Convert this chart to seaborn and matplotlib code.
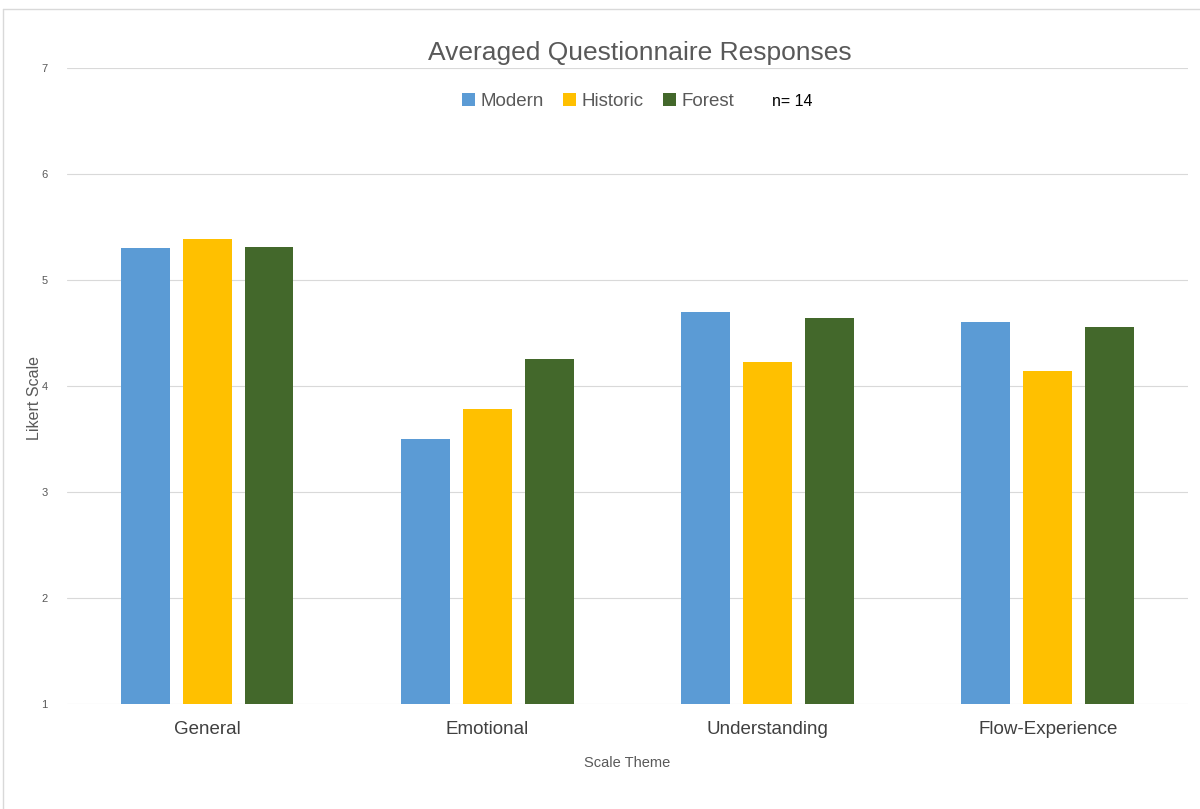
import matplotlib
matplotlib.use("Agg")
import matplotlib.pyplot as plt
import seaborn as sns
import pandas as pd
from matplotlib.patches import Patch
from matplotlib.lines import Line2D

categories = ["General", "Emotional", "Understanding", "Flow-Experience"]
series_names = ["Modern", "Historic", "Forest"]
modern = [5.30, 3.50, 4.70, 4.60]
historic = [5.39, 3.78, 4.23, 4.14]
forest = [5.31, 4.25, 4.64, 4.56]
y_ticks = [1, 2, 3, 4, 5, 6, 7]
colors = ["#5B9BD5", "#FFC000", "#43682B"]

rows = []
for name, vals in zip(series_names, [modern, historic, forest]):
    for c, v in zip(categories, vals):
        rows.append({"Scale Theme": c, "Series": name, "Value": v})
df = pd.DataFrame(rows)

sns.set_theme(style="white")
plt.rcParams["font.family"] = ["Liberation Sans", "DejaVu Sans"]

fig = plt.figure(figsize=(12, 8.09), dpi=100)
ax = fig.add_axes([0.0558, 0.1298, 0.9342, 0.7862])

sns.barplot(data=df, x="Scale Theme", y="Value", hue="Series",
            palette=colors, hue_order=series_names, order=categories,
            width=0.663, gap=0.21, ax=ax, legend=False, errorbar=None,
            saturation=1)

# bars start from baseline 1 (the axis minimum)
for p in ax.patches:
    h = p.get_height()
    p.set_y(1)
    p.set_height(h - 1)
    p.set_linewidth(0)

ax.set_ylim(1, 7)
ax.set_xlim(-0.5, 3.5)
ax.set_yticks(y_ticks)
ax.set_yticklabels([str(t) for t in y_ticks], fontsize=8, color="#595959")
ax.tick_params(axis="y", length=0, pad=14)
ax.tick_params(axis="x", length=0, labelsize=13.5, labelcolor="#404040", pad=12)
ax.yaxis.grid(True, color="#D9D9D9", linewidth=0.8)
ax.set_axisbelow(True)
for s in ax.spines.values():
    s.set_visible(False)

ax.set_ylabel("Likert Scale", fontsize=11.5, color="#595959")
ax.yaxis.set_label_coords(-0.022, 0.481)
ax.set_xlabel("Scale Theme", fontsize=10.5, color="#595959", labelpad=13)

fig.text(0.533, 0.935, "Averaged Questionnaire Responses", ha="center",
         va="center", fontsize=19, color="#595959")

handles = [Patch(facecolor=c, edgecolor="none") for c in colors]
handles.append(Line2D([], [], linestyle="none"))
labels = series_names + ["n= 14"]
leg = fig.legend(handles, labels, loc="center", bbox_to_anchor=(0.531, 0.875),
                 ncol=4, frameon=False, fontsize=13.5, handlelength=0.7,
                 handleheight=0.7, handletextpad=0.3, columnspacing=1.0)
for t in leg.get_texts():
    t.set_color("#595959")
leg.get_texts()[-1].set_color("black")
leg.get_texts()[-1].set_fontsize(11.5)

# light chart-area border
fig.add_artist(Line2D([3 / 1200, 1.0], [1 - 9 / 809, 1 - 9 / 809],
                      transform=fig.transFigure, color="#D9D9D9", linewidth=1))
fig.add_artist(Line2D([3 / 1200, 3 / 1200], [0, 1 - 9 / 809],
                      transform=fig.transFigure, color="#D9D9D9", linewidth=1))

fig.savefig("out.png", dpi=100)
